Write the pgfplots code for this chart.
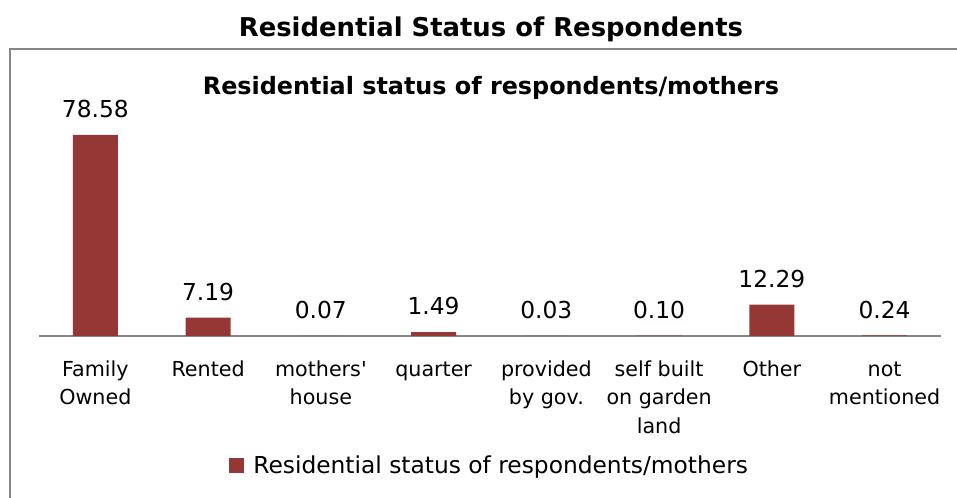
\documentclass[border=0pt]{standalone}
\usepackage{fontspec}
\setmainfont{DejaVu Sans}
\newfontfamily\nomap{DejaVu Sans}[Ligatures=ResetAll]
\usepackage{pgfplots}
\pgfplotsset{compat=1.18}
\definecolor{barred}{HTML}{953735}
\definecolor{framegray}{HTML}{868686}
\definecolor{axisgray}{HTML}{868686}
\begin{document}
\begin{tikzpicture}
\useasboundingbox (0,0) rectangle (717.75pt,-373.5pt);
\clip (0,0) rectangle (717.75pt,-373.5pt);
\draw[framegray, line width=1pt] (7.5pt,-36.75pt) rectangle (730pt,-390pt);
\node[font=\fontsize{19.4}{22}\selectfont\bfseries, anchor=base, inner sep=0pt] at (368.25pt,-27.75pt) {Residential Status of Respondents};
\node[font=\fontsize{17.9}{22}\selectfont\bfseries, anchor=base, inner sep=0pt] at (368.25pt,-71.25pt) {Residential status of respondents/mothers};
\begin{axis}[
  at={(29.25pt,-252pt)}, anchor=south west,
  scale only axis, width=676.5pt, height=169.5pt,
  ymin=0, ymax=88.35, xmin=-0.5, xmax=7.5,
  axis x line=bottom, hide y axis,
  x axis line style={-, axisgray, line width=1.1pt},
  xtick={0,...,7}, major tick length=0pt,
  xticklabels={Family\\Owned, Rented, mothers{\nomap'}\\house, quarter, provided\\by gov., self built\\on garden\\land, Other, not\\mentioned},
  typeset ticklabels with strut,
  xticklabel style={font=\fontsize{15.5}{21.4}\selectfont, align=center, anchor=north, inner sep=0pt, yshift=-15pt},
  /pgf/number format/assume math mode=true,
  ybar, bar width=33.75pt,
  nodes near coords={\pgfmathprintnumber[fixed, fixed zerofill, precision=2]{\pgfplotspointmeta}},
  every node near coord/.append style={font=\fontsize{17.5}{20}\selectfont, anchor=base, yshift=13pt, inner sep=0pt, black},
  legend style={at={(0.5,-0.575)}, anchor=center, draw=none, font=\fontsize{17.5}{20}\selectfont, inner sep=0pt},
  legend image code/.code={\fill[barred] (0pt,-5.625pt) rectangle (11.25pt,5.625pt); \path (16pt,0pt);},
  clip=false,
]
\addplot[fill=barred, draw=none] coordinates {(0,78.58) (1,7.19) (2,0.07) (3,1.49) (4,0.03) (5,0.10) (6,12.29) (7,0.24)};
\addlegendentry{Residential status of respondents/mothers}
\end{axis}
\end{tikzpicture}
\end{document}
